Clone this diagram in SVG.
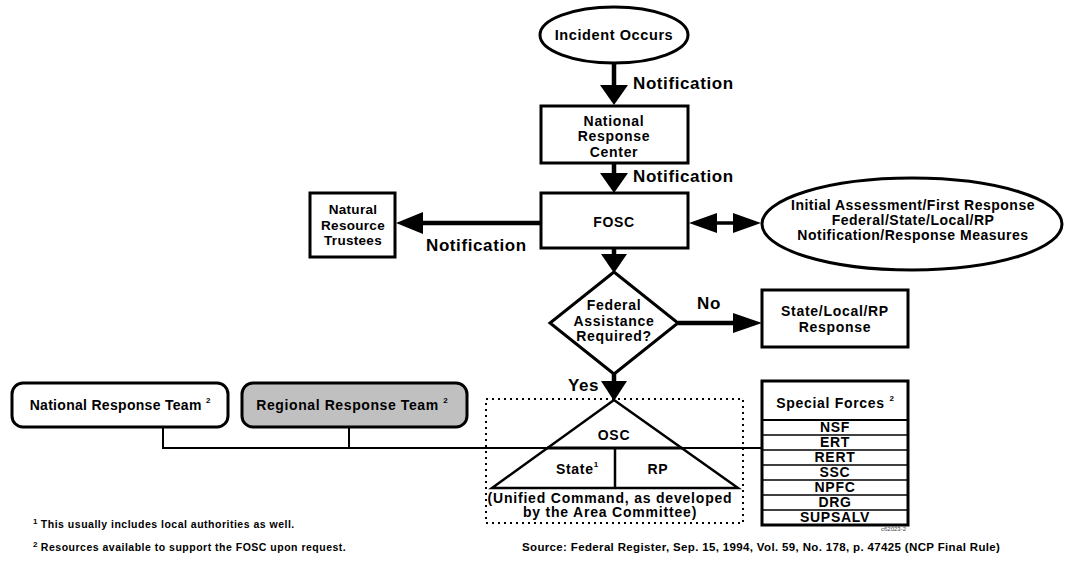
<svg xmlns="http://www.w3.org/2000/svg" width="1065" height="567" viewBox="0 0 1065 567">
<style>
.t{font-family:"Liberation Sans",Arial,Helvetica,sans-serif;font-weight:bold;fill:#000}
.c{text-anchor:middle}
.s13{font-size:14px;letter-spacing:0.7px}
.s12{font-size:13.5px;letter-spacing:0.3px}
.lbl{font-size:17px;letter-spacing:0.6px}
.sup{font-size:8px;letter-spacing:0}
.fn{font-size:10.5px;letter-spacing:0.5px}
.src{font-size:11.5px;letter-spacing:0.35px}
.box{fill:#fff;stroke:#000;stroke-width:3}
.shaft{stroke:#000;stroke-width:4.5;fill:none}
.thin{stroke:#000;stroke-width:2;fill:none}
.head{fill:#000;stroke:none}
.row{stroke:#000;stroke-width:1.3}
</style>
<rect width="1065" height="567" fill="#fff"/>

<g id="connectors">
  <line class="shaft" x1="614" y1="63" x2="614" y2="90"/>
  <polygon class="head" points="600,85 628,85 614,105"/>
  <line class="shaft" x1="614" y1="163" x2="614" y2="178"/>
  <polygon class="head" points="600,173 628,173 614,193"/>
  <line class="shaft" x1="541" y1="223" x2="418" y2="223"/>
  <polygon class="head" points="423,212 423,234 396,223"/>
  <line class="shaft" x1="700" y1="223" x2="750" y2="223" style="stroke-width:3.5"/>
  <polygon class="head" points="717,213 717,233 689,223"/>
  <polygon class="head" points="733,213 733,233 761,223"/>
  <line class="shaft" x1="614" y1="248" x2="614" y2="258"/>
  <polygon class="head" points="601,254 627,254 614,273"/>
  <line class="shaft" x1="678" y1="323" x2="738" y2="323"/>
  <polygon class="head" points="733,313 733,333 762,323"/>
  <line class="shaft" x1="614" y1="374" x2="614" y2="385"/>
  <polygon class="head" points="601,381 627,381 614,401"/>
  <polyline class="thin" points="163,427 163,448 762,448"/>
  <line class="thin" x1="349" y1="427" x2="349" y2="448"/>
  <text class="t lbl" x="633" y="89">Notification</text>
  <text class="t lbl" x="633" y="182">Notification</text>
  <text class="t lbl" x="426" y="251">Notification</text>
  <text class="t lbl" x="697" y="309">No</text>
  <text class="t lbl" x="568" y="391">Yes</text>
</g>

<g id="incident">
  <ellipse class="box" cx="614" cy="35" rx="74" ry="28"/>
  <text class="t c" x="614" y="40" style="font-size:14.5px;letter-spacing:0.6px">Incident Occurs</text>
</g>

<g id="nrc">
  <rect class="box" x="541" y="106" width="147" height="57"/>
  <text class="t c s13" x="614" y="126">National</text>
  <text class="t c s13" x="614" y="141">Response</text>
  <text class="t c s13" x="614" y="157">Center</text>
</g>

<g id="fosc">
  <rect class="box" x="541" y="193" width="147" height="55"/>
  <text class="t c s13" x="614" y="227">FOSC</text>
</g>

<g id="trustees">
  <rect class="box" x="310" y="193" width="85" height="64"/>
  <text class="t c s12" x="353" y="214">Natural</text>
  <text class="t c s12" x="353" y="230">Resource</text>
  <text class="t c s12" x="353" y="245">Trustees</text>
</g>

<g id="assessment">
  <ellipse class="box" cx="912" cy="224" rx="150" ry="46"/>
  <text class="t c s13" x="913" y="210" style="letter-spacing:0.5px">Initial Assessment/First Response</text>
  <text class="t c s13" x="913" y="225" style="letter-spacing:0.5px">Federal/State/Local/RP</text>
  <text class="t c s13" x="913" y="240" style="letter-spacing:0.5px">Notification/Response Measures</text>
</g>

<g id="decision">
  <polygon class="box" points="614,272 678,323 614,374 550,323"/>
  <text class="t c s13" x="614" y="310">Federal</text>
  <text class="t c s13" x="614" y="326">Assistance</text>
  <text class="t c s13" x="614" y="341">Required?</text>
</g>

<g id="state-response">
  <rect class="box" x="762" y="290" width="146" height="57"/>
  <text class="t c s13" x="835" y="316">State/Local/RP</text>
  <text class="t c s13" x="835" y="332">Response</text>
</g>

<g id="national-team">
  <rect class="box" x="12" y="383" width="216" height="44" rx="11"/>
  <text class="t c s13" x="120" y="410" style="letter-spacing:0.3px">National Response Team <tspan class="sup" dy="-7">2</tspan></text>
</g>

<g id="regional-team">
  <rect class="box" x="242" y="383" width="225" height="44" rx="11" style="fill:#c0c0c0"/>
  <text class="t c s13" x="352" y="410" style="letter-spacing:0.6px">Regional Response Team <tspan class="sup" dy="-7">2</tspan></text>
</g>

<g id="unified-command">
  <rect x="486" y="399" width="257" height="124" fill="none" stroke="#000" stroke-width="2" stroke-dasharray="2 4"/>
  <polygon points="614,400 738,488 492,488" fill="#fff" stroke="#000" stroke-width="2.5"/>
  <line x1="547" y1="448" x2="682" y2="448" stroke="#000" stroke-width="3"/>
  <line x1="615" y1="448" x2="615" y2="488" stroke="#000" stroke-width="2.5"/>
  <text class="t c s13" x="614" y="440">OSC</text>
  <text class="t c s13" x="577" y="474">State<tspan class="sup" dy="-7">1</tspan></text>
  <text class="t c s13" x="658" y="474">RP</text>
  <text class="t c s13" x="610" y="503" style="letter-spacing:0.8px">(Unified Command, as developed</text>
  <text class="t c s13" x="610" y="517" style="letter-spacing:0.8px">by the Area Committee)</text>
</g>

<g id="special-forces">
  <rect class="box" x="762" y="381" width="146" height="144"/>
  <line x1="762" y1="420" x2="908" y2="420" stroke="#000" stroke-width="2"/>
  <line class="row" x1="762" y1="435" x2="908" y2="435"/>
  <line class="row" x1="762" y1="450" x2="908" y2="450"/>
  <line class="row" x1="762" y1="465" x2="908" y2="465"/>
  <line class="row" x1="762" y1="480" x2="908" y2="480"/>
  <line class="row" x1="762" y1="495" x2="908" y2="495"/>
  <line class="row" x1="762" y1="510" x2="908" y2="510"/>
  <text class="t c s13" x="835" y="408">Special Forces <tspan class="sup" dy="-7">2</tspan></text>
  <text class="t c s13" x="835" y="432">NSF</text>
  <text class="t c s13" x="835" y="447">ERT</text>
  <text class="t c s13" x="835" y="462">RERT</text>
  <text class="t c s13" x="835" y="477">SSC</text>
  <text class="t c s13" x="835" y="492">NPFC</text>
  <text class="t c s13" x="835" y="507">DRG</text>
  <text class="t c s13" x="835" y="522">SUPSALV</text>
</g>

<g id="notes">
  <text class="t" x="906" y="531" style="font-size:6px;font-weight:normal;fill:#444;text-anchor:end">c62023-2</text>
  <text class="t fn" x="33" y="528"><tspan class="sup" dy="-4">1</tspan><tspan dy="4"> This usually includes local authorities as well.</tspan></text>
  <text class="t fn" x="33" y="551"><tspan class="sup" dy="-4">2</tspan><tspan dy="4"> Resources available to support the FOSC upon request.</tspan></text>
  <text class="t src" x="522" y="551">Source:  Federal Register, Sep. 15, 1994, Vol. 59, No. 178, p. 47425 (NCP Final Rule)</text>
</g>
</svg>
